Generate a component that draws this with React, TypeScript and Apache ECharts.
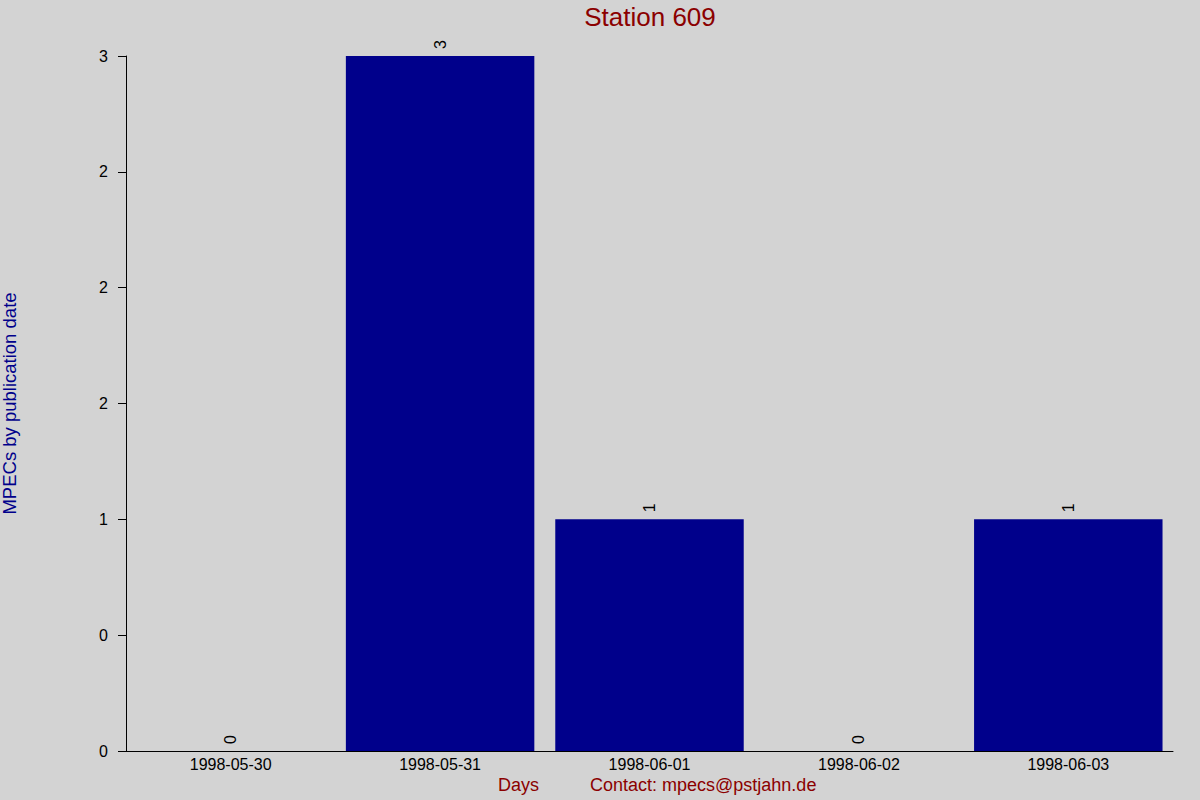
import * as echarts from 'echarts'
import { useEffect, useRef } from 'react'

const days = ['1998-05-30', '1998-05-31', '1998-06-01', '1998-06-02', '1998-06-03']
const counts = [0, 3, 1, 0, 1]
// y tick labels as printed on the original (0, 0.5, 1, ... 3 rounded)
const yTickLabels = ['0', '0', '1', '2', '2', '2', '3']

const FONT = 'Liberation Sans, Arial, sans-serif'

const App = () => {
	const chartRef = useRef(null)

	useEffect(() => {
		document.body.style.margin = '0'
		const chart = echarts.init(chartRef.current, null, { renderer: 'svg' })

		const option = {
			animation: false,
			backgroundColor: '#d3d3d3',
			title: {
				text: 'Station 609',
				left: 645,
				top: -1,
				textAlign: 'center',
				textStyle: { color: '#8b0000', fontSize: 26, fontWeight: 'normal', fontFamily: FONT },
			},
			grid: { left: 126, right: 27, top: 56, bottom: 49, containLabel: false, outerBoundsMode: 'none' },
			xAxis: {
				type: 'category',
				data: days,
				axisLine: { show: true, lineStyle: { color: '#000', width: 1 } },
				axisTick: { show: false },
				axisLabel: { color: '#000', fontSize: 16, fontFamily: FONT, margin: 5 },
				splitLine: { show: false },
			},
			yAxis: {
				type: 'value',
				min: 0,
				max: 3,
				interval: 0.5,
				name: 'MPECs by publication date',
				nameLocation: 'middle',
				nameGap: 107,
				nameRotate: 90,
				nameTextStyle: { color: '#00008b', fontSize: 18.5, fontFamily: FONT },
				axisLine: { show: true, lineStyle: { color: '#000', width: 1 } },
				axisTick: { show: true, length: 8, lineStyle: { color: '#000' } },
				axisLabel: {
					color: '#000',
					fontSize: 16,
					fontFamily: FONT,
					margin: 18,
					formatter: (v: number) => yTickLabels[Math.round(v * 2)] ?? '',
				},
				splitLine: { show: false },
			},
			series: [
				{
					type: 'bar',
					data: counts,
					barCategoryGap: '10%',
					itemStyle: { color: '#00008b' },
					label: {
						show: true,
						position: 'top',
						rotate: 90,
						align: 'left',
						verticalAlign: 'middle',
						distance: 7,
						color: '#000',
						fontSize: 16,
						fontFamily: FONT,
					},
				},
			],
			graphic: [
				{
					type: 'text',
					left: 498,
					top: 776,
					style: { text: 'Days', fill: '#8b0000', fontSize: 18, fontFamily: FONT },
				},
				{
					type: 'text',
					left: 590,
					top: 776,
					style: { text: 'Contact: mpecs@pstjahn.de', fill: '#8b0000', fontSize: 18, fontFamily: FONT },
				},
			],
		}

		chart.setOption(option)

		return () => {
			chart.dispose()
		}
	}, [])

	return <div ref={chartRef} style={{ width: 1200, height: 800 }} />
}

export default App
